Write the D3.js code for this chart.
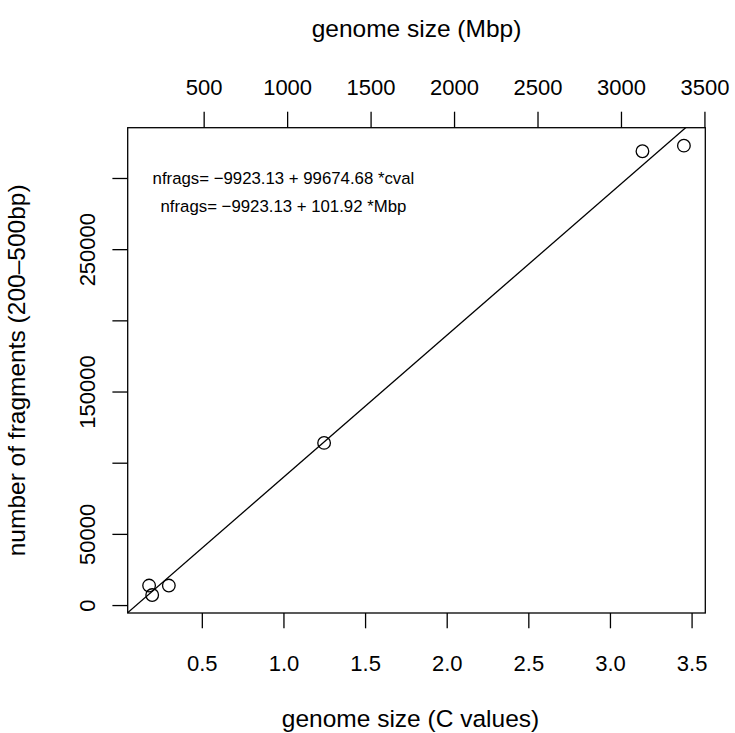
<!DOCTYPE html>
<html>
<head>
<meta charset="utf-8">
<script src="https://cdn.jsdelivr.net/npm/d3@7"></script>
<style>
  body { margin: 0; background: #fff; }
  text { font-family: "Liberation Sans", Arial, Helvetica, sans-serif; fill: #000; }
</style>
</head>
<body>
<svg id="frame"></svg>
<script>
// data
const cval = [0.177, 0.196, 0.298, 1.249, 3.199, 3.453];
const nfrags = [13700, 7050, 13700, 113900, 318800, 322700];

// fitted line from the annotation
const intercept = -9923.13;
const slope = 99674.68;
const mbpPerC = 978;

const xTicks = [0.5, 1.0, 1.5, 2.0, 2.5, 3.0, 3.5];
const mbpTicks = [500, 1000, 1500, 2000, 2500, 3000, 3500];
const yTicks = [0, 50000, 100000, 150000, 200000, 250000, 300000];
const yLabelled = [0, 50000, 150000, 250000];

const annotations = [
  {x: 1, y: 300000, text: 'nfrags= \u22129923.13 + 99674.68 *cval'},
  {x: 1, y: 280000, text: 'nfrags= \u22129923.13 + 101.92 *Mbp'}
];

const width = 735;
const height = 733;
const box = {left: 127.7, right: 705.3, top: 127.7, bottom: 613};
const fontSize = 22;
const titleSize = 24.5;

const svg = d3.select('#frame')
  .attr('width', width)
  .attr('height', height);

// R style 4% padding
const pad = (ext) => {
  const r = ext[1] - ext[0];
  return [ext[0] - 0.04 * r, ext[1] + 0.04 * r];
};

const xDomain = pad(d3.extent(cval));
const yDomain = pad(d3.extent(nfrags));

const xScale = d3.scaleLinear().domain(xDomain).range([box.left, box.right]);
const yScale = d3.scaleLinear().domain(yDomain).range([box.bottom, box.top]);
const mbpScale = d3.scaleLinear()
  .domain(xDomain.map(d => d * mbpPerC))
  .range([box.left, box.right]);

// axes
const xaxis = d3.axisBottom(xScale).tickValues(xTicks).tickFormat(d3.format('.1f'))
  .tickSize(15.3).tickSizeOuter(0).tickPadding(27);
const topaxis = d3.axisTop(mbpScale).tickValues(mbpTicks).tickFormat(d => d)
  .tickSize(16).tickSizeOuter(0).tickPadding(16.7);
const yaxis = d3.axisLeft(yScale).tickValues(yTicks)
  .tickFormat(d => yLabelled.includes(d) ? d : '')
  .tickSize(15.3).tickSizeOuter(0);

function style(g) {
  g.select('.domain').remove();
  g.selectAll('line').attr('stroke', '#000').attr('stroke-width', 1.3);
  g.selectAll('text').attr('font-size', fontSize)
    .attr('font-family', '"Liberation Sans", Arial, Helvetica, sans-serif')
    .attr('fill', '#000');
}

svg.append('g').attr('transform', `translate(0,${box.bottom})`).call(xaxis).call(style);
svg.append('g').attr('transform', `translate(0,${box.top})`).call(topaxis).call(style);
svg.append('g').attr('transform', `translate(${box.left},0)`).call(yaxis).call(style)
  .selectAll('text')
  .attr('transform', 'rotate(-90)')
  .attr('x', 0)
  .attr('y', -32.7)
  .attr('dy', 0)
  .attr('text-anchor', 'middle');

// box
svg.append('rect')
  .attr('x', box.left).attr('y', box.top)
  .attr('width', box.right - box.left).attr('height', box.bottom - box.top)
  .attr('fill', 'none').attr('stroke', '#000').attr('stroke-width', 1.3);

// regression line clipped to the box
svg.append('clipPath').attr('id', 'clip')
  .append('rect')
  .attr('x', box.left).attr('y', box.top)
  .attr('width', box.right - box.left).attr('height', box.bottom - box.top);

svg.append('line')
  .attr('clip-path', 'url(#clip)')
  .attr('x1', xScale(xDomain[0])).attr('y1', yScale(intercept + slope * xDomain[0]))
  .attr('x2', xScale(xDomain[1])).attr('y2', yScale(intercept + slope * xDomain[1]))
  .attr('stroke', '#000').attr('stroke-width', 1.3);

// points
svg.selectAll('circle').data(cval.map((c, i) => ({x: c, y: nfrags[i]}))).enter()
  .append('circle')
  .attr('cx', d => xScale(d.x))
  .attr('cy', d => yScale(d.y))
  .attr('r', 6.3)
  .attr('fill', 'none')
  .attr('stroke', '#000')
  .attr('stroke-width', 1.3);

// annotation text
svg.selectAll('.note').data(annotations).enter()
  .append('text')
  .attr('class', 'note')
  .attr('x', d => xScale(d.x))
  .attr('y', d => yScale(d.y))
  .attr('dy', '0.35em')
  .attr('text-anchor', 'middle')
  .attr('font-size', 16.8)
  .text(d => d.text);

// axis titles
const midX = (box.left + box.right) / 2;
const midY = (box.top + box.bottom) / 2;

svg.append('text')
  .attr('x', midX - 6).attr('y', 727)
  .attr('text-anchor', 'middle').attr('font-size', titleSize)
  .text('genome size (C values)');

svg.append('text')
  .attr('x', midX).attr('y', 37)
  .attr('text-anchor', 'middle').attr('font-size', titleSize)
  .text('genome size (Mbp)');

svg.append('text')
  .attr('transform', `translate(25,${midY}) rotate(-90)`)
  .attr('text-anchor', 'middle').attr('font-size', titleSize)
  .text('number of fragments (200\u2013500bp)');
</script>
</body>
</html>
